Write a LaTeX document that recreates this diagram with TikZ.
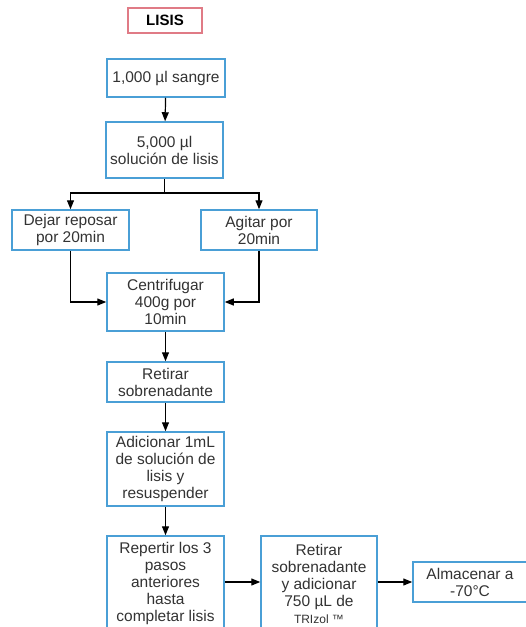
\documentclass[tikz,border=0pt]{standalone}
\usepackage{fontspec}
\setmainfont{Liberation Sans}
\usetikzlibrary{arrows.meta}
\definecolor{boxblue}{HTML}{4A9FD6}
\definecolor{boxred}{HTML}{E07B86}
\definecolor{txt}{HTML}{333333}
\tikzset{
  box/.style={draw=boxblue, line width=1.5pt, fill=white, text=txt, align=center,
    inner sep=2pt, font=\fontsize{15.5}{17}\selectfont},
  titlebox/.style={draw=boxred, line width=1.3pt, text=black, align=center,
    font=\fontsize{15}{17}\selectfont\bfseries},
  arr/.style={draw=black, line width=1.2pt, -{Triangle[width=7pt,length=9pt]}},
  ln/.style={draw=black, line width=1.2pt}
}
\begin{document}
\begin{tikzpicture}[x=1pt,y=-1pt]
\clip (0,0) rectangle (526,627);
\fill[white] (0,0) rectangle (526,627);
\node[titlebox, minimum width=74pt, minimum height=25pt] (lisis) at (165,20.5) {LISIS};
\node[box, minimum width=118pt, minimum height=38pt] (sangre) at (166,78) {1,000 µl sangre};
\node[box, minimum width=117pt, minimum height=56pt] (sol) at (164.5,150) {5,000 µl\\solución de lisis};
\node[box, minimum width=117pt, minimum height=40pt] (dejar) at (70.5,230) {Dejar reposar\\por 20min};
\node[box, minimum width=116pt, minimum height=40pt] (agitar) at (259,230) {Agitar por\\20min};
\node[box, minimum width=117pt, minimum height=58pt] (centri) at (165.5,302) {Centrifugar\\400g por\\10min};
\node[box, minimum width=117pt, minimum height=40pt] (retirar) at (165.5,382) {Retirar\\sobrenadante};
\node[box, minimum width=117pt, minimum height=74pt] (adic) at (165.5,469) {Adicionar 1mL\\de solución de\\lisis y\\resuspender};
\node[box, minimum width=117pt, minimum height=95pt] (rep) at (165.5,583.5) {Repertir los 3\\pasos\\anteriores\\hasta\\completar lisis};
\node[box, minimum width=116pt, minimum height=95pt] (tri) at (319,583.5) {Retirar\\sobrenadante\\y adicionar\\750 µL de\\{\fontsize{12}{17}\selectfont TRIzol ™}};
\node[box, minimum width=114pt, minimum height=40pt] (alm) at (470,582) {Almacenar a\\-70°C};
\coordinate (br) at (164.5,193);
\draw[arr] (sangre) -- (sol);
\draw[ln] (sol) -- (br);
\draw[arr] (br) -| (dejar);
\draw[arr] (br) -| (agitar);
\draw[arr] (dejar) |- (centri);
\draw[arr] (agitar) |- (centri);
\draw[arr] (centri) -- (retirar);
\draw[arr] (retirar) -- (adic);
\draw[arr] (adic) -- (rep);
\draw[arr] (rep.east |- alm.west) -- (tri.west |- alm.west);
\draw[arr] (tri.east |- alm.west) -- (alm.west);
\end{tikzpicture}
\end{document}
